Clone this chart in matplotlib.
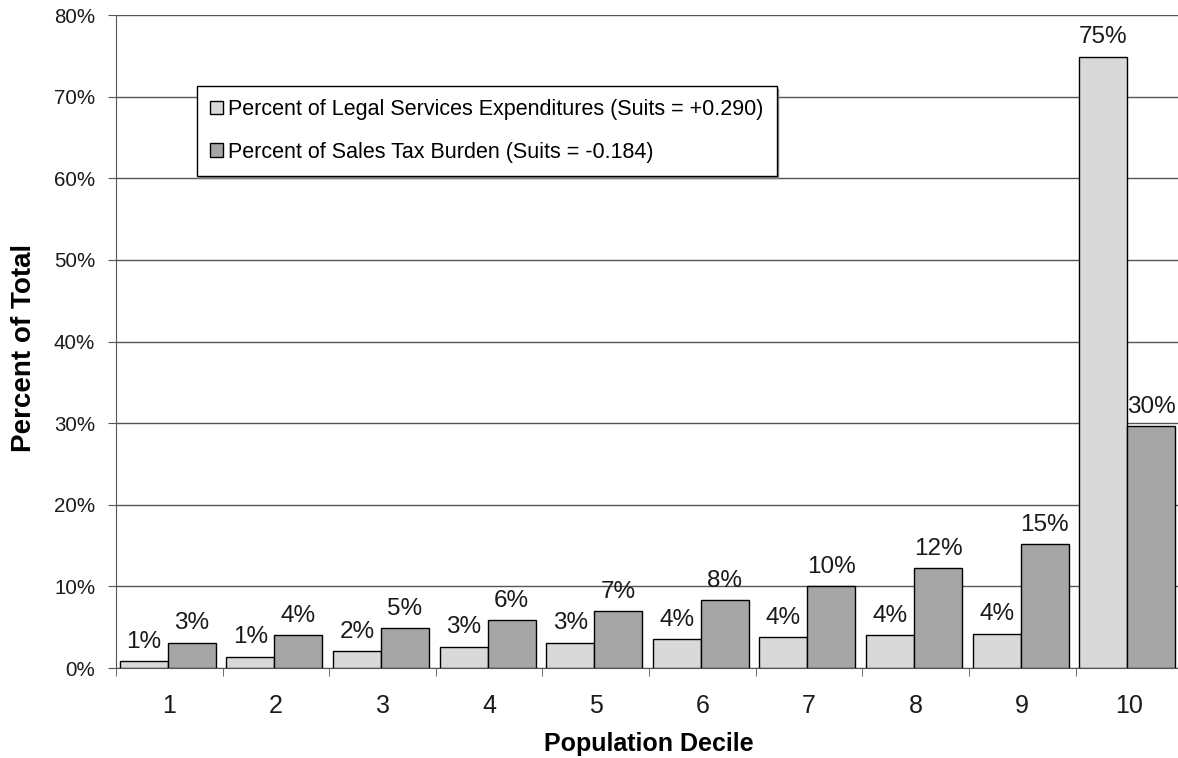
import matplotlib.pyplot as plt
import numpy as np

plt.rcParams['font.family'] = ['Liberation Sans', 'DejaVu Sans']

deciles = ['1', '2', '3', '4', '5', '6', '7', '8', '9', '10']
legal = [0.8, 1.4, 2.1, 2.6, 3.1, 3.5, 3.8, 4.0, 4.2, 74.9]
sales = [3.1, 4.0, 4.9, 5.9, 7.0, 8.3, 10.0, 12.2, 15.2, 29.6]
legal_labels = ['1%', '1%', '2%', '3%', '3%', '4%', '4%', '4%', '4%', '75%']
sales_labels = ['3%', '4%', '5%', '6%', '7%', '8%', '10%', '12%', '15%', '30%']

fig = plt.figure(figsize=(11.78, 7.58), dpi=100)
ax = fig.add_axes([0.0985, 0.1187, 0.905, 0.8615])

x = np.arange(len(deciles))
w = 0.45
b1 = ax.bar(x - w/2 - 0.015, legal, w, color='#d9d9d9', edgecolor='black', linewidth=1,
            label='Percent of Legal Services Expenditures (Suits = +0.290)', zorder=3)
b2 = ax.bar(x + w/2 - 0.015, sales, w, color='#a6a6a6', edgecolor='black', linewidth=1,
            label='Percent of Sales Tax Burden (Suits = -0.184)', zorder=3)

ax.bar_label(b1, labels=legal_labels, padding=6, fontsize=17.5, color='#1a1a1a')
ax.bar_label(b2, labels=sales_labels, padding=6, fontsize=17.5, color='#1a1a1a')

ax.set_xlim(-0.5, 9.5)
ax.set_ylim(0, 80)
ax.set_yticks(range(0, 81, 10))
ax.set_yticklabels([f'{v}%' for v in range(0, 81, 10)], fontsize=14.8, color='#1a1a1a')
ax.yaxis.grid(True, color='#555555', linewidth=1)
ax.set_axisbelow(True)

# category labels at centers, tick marks at boundaries
ax.set_xticks(x)
ax.set_xticklabels(deciles, fontsize=18, color='#1a1a1a')
ax.tick_params(axis='x', length=0, pad=19)
ax.set_xticks(np.arange(-0.5, 10, 1), minor=True)
ax.tick_params(axis='x', which='minor', length=6, color='#555555', direction='out')
ax.tick_params(axis='y', length=6, color='#555555', direction='out', pad=9)

for s in ['top', 'right']:
    ax.spines[s].set_visible(False)
ax.spines['left'].set_color('#555555')
ax.spines['bottom'].set_color('#555555')

ax.set_xlabel('Population Decile', fontsize=18, fontweight='bold')
ax.set_ylabel('Percent of Total', fontsize=20, fontweight='bold')
ax.xaxis.set_label_coords(0.5, -0.098)
ax.yaxis.set_label_coords(-0.074, 0.49)

leg = ax.legend(loc='upper left', bbox_to_anchor=(0.076, 0.891), fontsize=15.5,
                frameon=True, fancybox=False, edgecolor='black', handlelength=0.6,
                handleheight=0.6, handletextpad=0.25, labelspacing=1.0,
                borderpad=0.6, borderaxespad=0,
                shadow={'ox': 1, 'oy': -2, 'color': '#888888', 'alpha': 1})
leg.get_frame().set_linewidth(1)
leg.get_frame().set_alpha(1)

fig.savefig('out.png', dpi=100)
